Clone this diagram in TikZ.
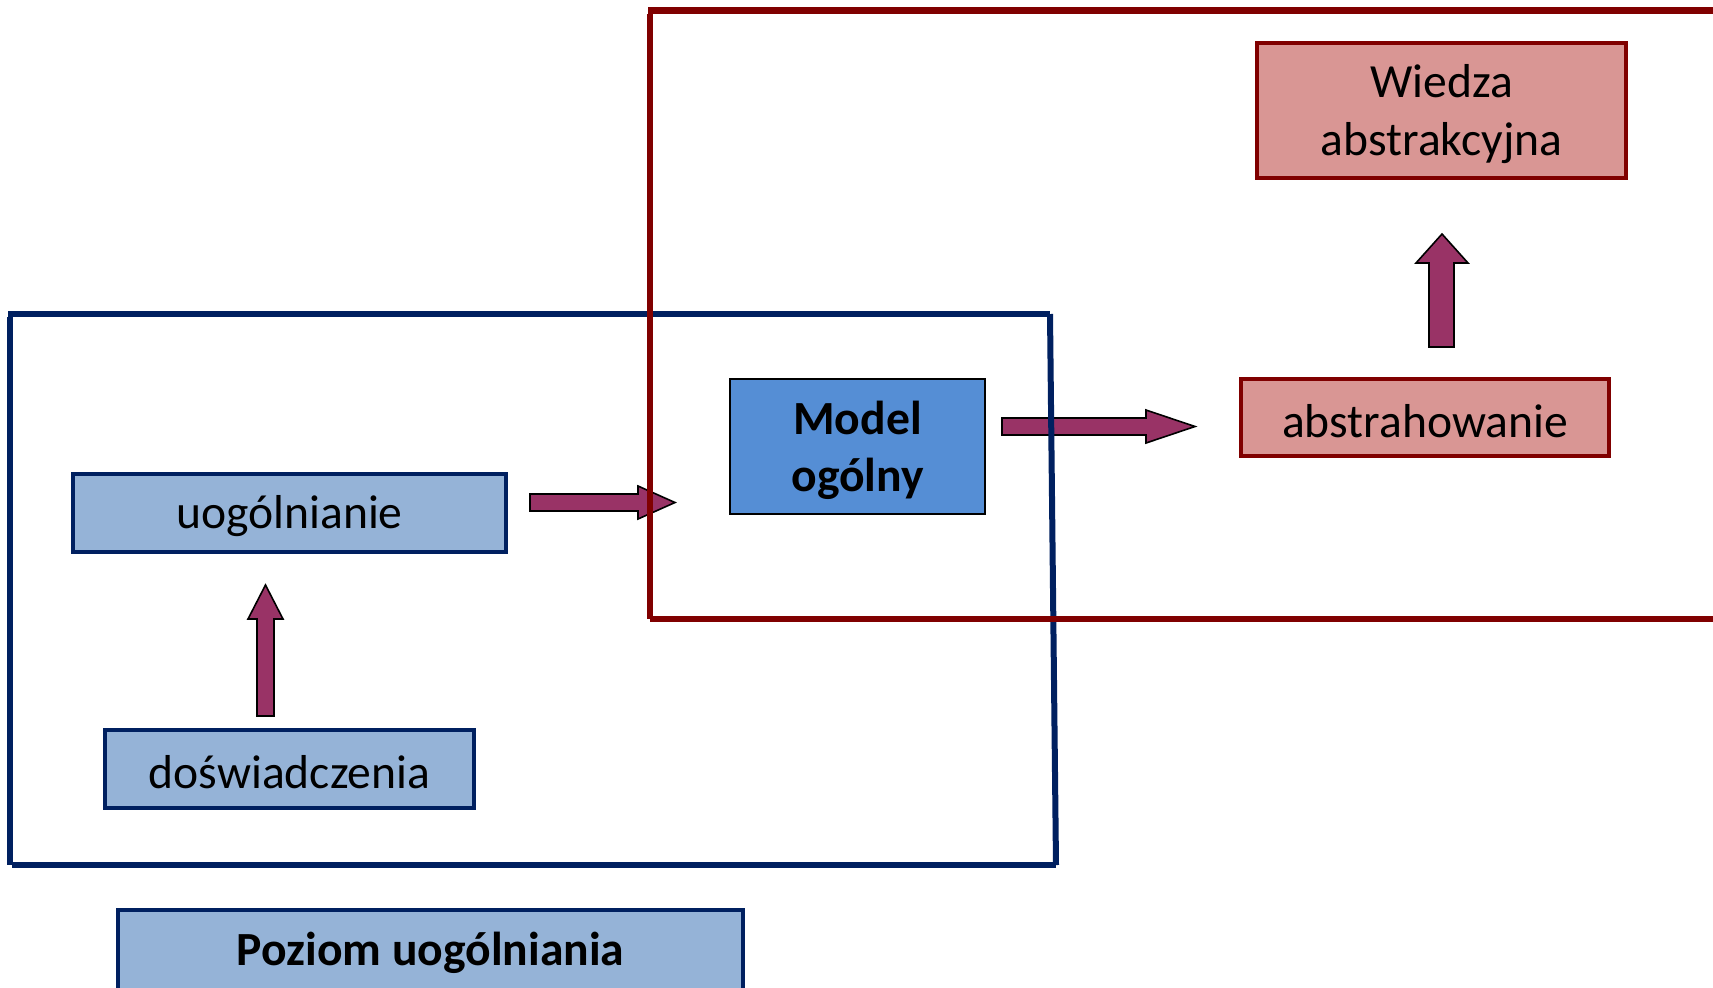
\documentclass[tikz,border=0pt]{standalone}
\usepackage{fontspec}
\setmainfont{Carlito}
\definecolor{navy}{HTML}{002060}
\definecolor{maroon}{HTML}{800000}
\definecolor{lblue}{HTML}{95B3D7}
\definecolor{mblue}{HTML}{558ED5}
\definecolor{pinkf}{HTML}{D99694}
\definecolor{plum}{HTML}{993366}
\newcommand\bigtxt{\fontsize{23.8}{28.6}\selectfont}
\begin{document}
\begin{tikzpicture}[x=0.5pt,y=-0.5pt,
  txt/.style={font=\bigtxt, align=center, inner sep=0pt},
  boxbase/.style={rectangle, inner sep=0pt},
  bluebox/.style={boxbase, fill=lblue, draw=navy, line width=2pt},
  modelbox/.style={boxbase, fill=mblue, draw=black, line width=1pt},
  pinkbox/.style={boxbase, fill=pinkf, draw=maroon, line width=2pt},
  blockarrow/.style={fill=plum, draw=black, line width=0.8pt, line join=miter},
  frameblue/.style={draw=navy, line width=3pt},
  framered/.style={draw=maroon, line width=3.2pt}]
\useasboundingbox (0,0) rectangle (1713,987);
\clip (0,0) rectangle (1713,987);

% boxes (size in px * 0.5pt)
\node[pinkbox, minimum width=184.5pt, minimum height=67.5pt] (wiedza) at (1441.5,110.5) {};
\node[pinkbox, minimum width=184pt, minimum height=38.5pt] (abstr) at (1425,417.5) {};
\node[modelbox, minimum width=127.5pt, minimum height=67.5pt] (model) at (857.5,446.5) {};
\node[bluebox, minimum width=216.5pt, minimum height=39pt] (uog) at (289.5,513) {};
\node[bluebox, minimum width=184.5pt, minimum height=39pt] (dosw) at (289.5,769) {};
\node[bluebox, minimum width=312.5pt, minimum height=50pt] (poziom) at (430.5,960) {};

% texts
\node[txt] (twiedza) at ([yshift=-1.75pt]wiedza.center) {Wiedza\\abstrakcyjna};
\node[txt] (tabstr) at ([yshift=-1.75pt]abstr.center) {abstrahowanie};
\node[txt, font=\bigtxt\bfseries] (tmodel) at ([yshift=-1.75pt]model.center) {Model\\ogólny};
\node[txt] (tuog) at ([yshift=-1.75pt]uog.center) {uogólnianie};
\node[txt] (tdosw) at ([yshift=-1.75pt]dosw.center) {doświadczenia};
\node[txt, font=\bigtxt\bfseries] (tpoziom) at (430.5,952.5) {Poziom uogólniania};

% block arrows
\draw[blockarrow] (530,494) -- (638,494) -- (638,486) -- (675,502.5) -- (638,519) -- (638,511) -- (530,511) -- cycle;
\draw[blockarrow] (1002,418) -- (1146,418) -- (1146,410) -- (1195,426.5) -- (1146,443) -- (1146,435) -- (1002,435) -- cycle;
\draw[blockarrow] (257,716) -- (257,619) -- (248,619) -- (265.5,585) -- (283,619) -- (274,619) -- (274,716) -- cycle;
\draw[blockarrow] (1429,347) -- (1429,263) -- (1416,263) -- (1442,234) -- (1468,263) -- (1454,263) -- (1454,347) -- cycle;

% frames
\draw[frameblue] (10,317) -- (10,865);
\draw[frameblue] (8,314) -- (1050,314);
\draw[frameblue] (1050,314) -- (1056,865);
\draw[frameblue] (12,865) -- (1056,865);
\draw[framered] (650,14) -- (650,619);
\draw[framered] (648,10.5) -- (1760,10.5);
\draw[framered] (650,619) -- (1760,619);
\end{tikzpicture}
\end{document}
